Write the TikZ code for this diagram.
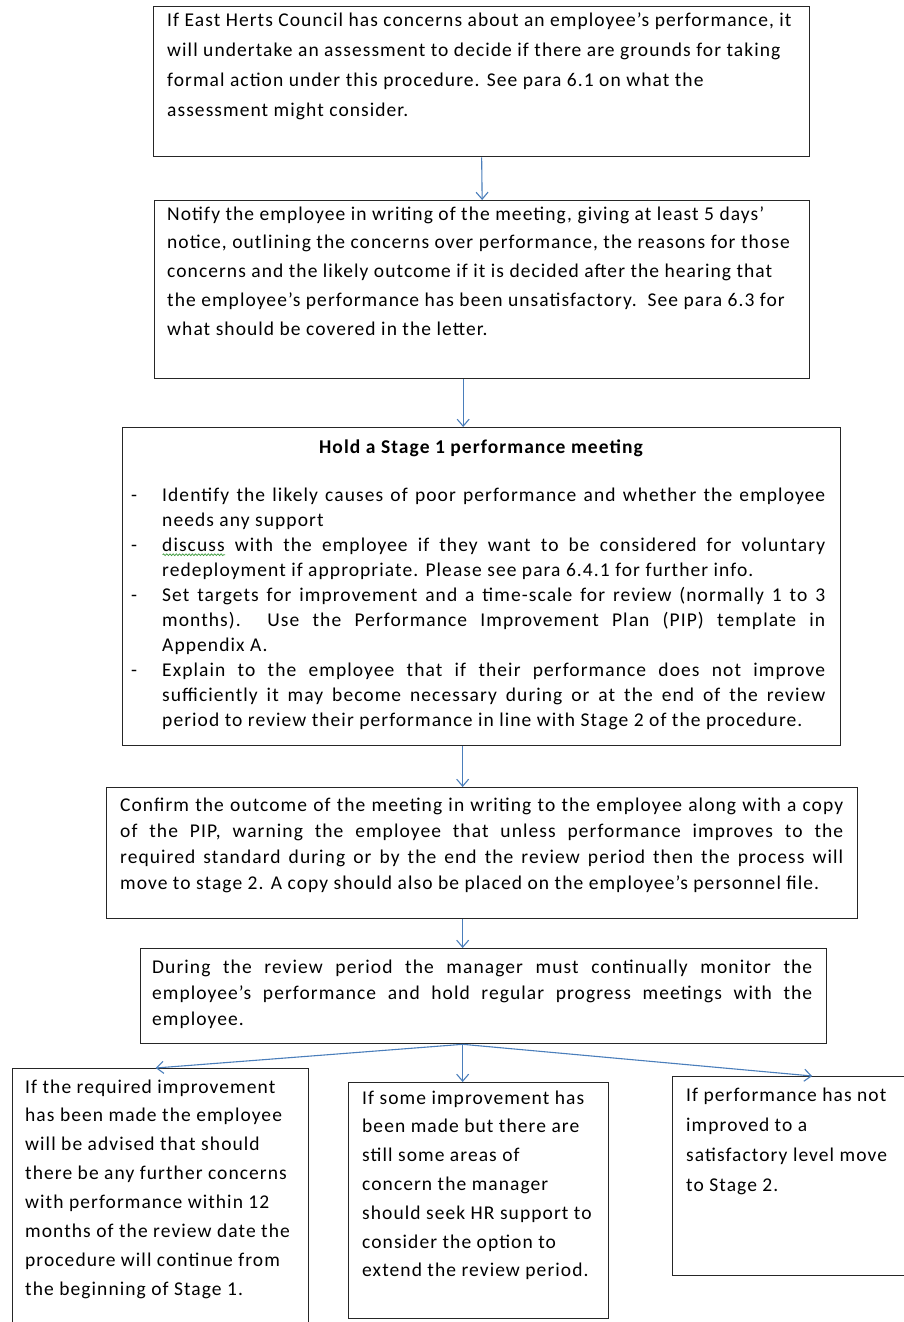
\documentclass[tikz,border=0pt]{standalone}
\usepackage{fontspec}
\setmainfont{Carlito}[LetterSpace=5.5]
\usetikzlibrary{arrows.meta,decorations.pathmorphing}
\definecolor{arr}{HTML}{4A7EBB}
\definecolor{spell}{HTML}{3C9A3C}
\tikzset{
  box/.style={draw=black!85, line width=1.3pt, anchor=north west, inner sep=0pt, fill=none},
  txt/.style={anchor=base west, inner sep=0pt},
  flow/.style={draw=arr, line width=1.1pt, -{Straight Barb[length=7pt,width=12pt]}},
  wavy/.style={draw=spell, line width=0.7pt, decorate, decoration={snake, amplitude=0.9pt, segment length=3.2pt}},
}
\newlength\spw
\newcommand\spellerr[1]{\settowidth\spw{#1}\rlap{\raisebox{-3.5pt}{\tikz[baseline=0pt]\draw[wavy] (0pt,0pt) -- (\spw,0pt);}}#1}
\newcommand\rtext[3]{\begin{minipage}[t]{#1}\fontsize{19.5}{#2}\selectfont\raggedright #3\end{minipage}}
\newcommand\jtext[3]{\begin{minipage}[t]{#1}\fontsize{19.5}{#2}\selectfont\setlength\parindent{0pt}#3\end{minipage}}
\newcommand\itm{\par\hangindent=31pt\hangafter=1\makebox[31pt][l]{-}}
\begin{document}
\begin{tikzpicture}[x=1pt,y=-1pt]
\useasboundingbox (0,0) rectangle (904,1322);
\clip (0,0) rectangle (904,1322);
\fill[white] (0,0) rectangle (904,1322);
% boxes
\node[box, minimum width=656pt, minimum height=150pt] (b1) at (153,6) {};
\node[box, minimum width=655pt, minimum height=178pt] (b2) at (154,200) {};
\node[box, minimum width=718pt, minimum height=318pt] (b3) at (122,427) {};
\node[box, minimum width=751pt, minimum height=131pt] (b4) at (106,787) {};
\node[box, minimum width=686pt, minimum height=95pt] (b5) at (140,948) {};
\node[box, minimum width=296pt, minimum height=275pt] (bl) at (12,1068) {};
\node[box, minimum width=260pt, minimum height=236pt] (bm) at (348,1082) {};
\node[box, minimum width=245pt, minimum height=199pt] (br) at (672,1076) {};
% texts
\node[txt] (t1) at (167,27) {\rtext{645pt}{30pt}{If East Herts Council has concerns about an employee’s performance, it\\
will undertake an assessment to decide if there are grounds for taking\\
formal action under this procedure. See para 6.1 on what the\\
assessment might consider.}};
\node[txt] (t2) at (167,220) {\rtext{645pt}{28.8pt}{Notify the employee in writing of the meeting, giving at least 5 days’\\
notice, outlining the concerns over performance, the reasons for those\\
concerns and the likely outcome if it is decided after the hearing that\\
the employee’s performance has been unsatisfactory.\ \ See para 6.3 for\\
what should be covered in the letter.}};
\node[anchor=base, inner sep=0pt, font=\fontsize{19.5}{20}\selectfont\bfseries] (t3h) at (481,453) {Hold a Stage 1 performance meeting};
\node[txt] (t3) at (131,501) {\jtext{694pt}{25.1pt}{%
\itm Identify the likely causes of poor performance and whether the employee\linebreak needs any support
\itm \spellerr{discuss} with the employee if they want to be considered for voluntary\linebreak redeployment if appropriate. Please see para 6.4.1 for further info.
\itm Set targets for improvement and a time-scale for review (normally 1 to 3\linebreak months).\ \ Use the Performance Improvement Plan (PIP) template in\linebreak Appendix A.
\itm Explain to the employee that if their performance does not improve\linebreak sufficiently it may become necessary during or at the end of the review\linebreak period to review their performance in line with Stage 2 of the procedure.\par}};
\node[txt] (t4) at (120,811) {\jtext{723pt}{26pt}{Confirm the outcome of the meeting in writing to the employee along with a copy\linebreak
of the PIP, warning the employee that unless performance improves to the\linebreak
required standard during or by the end the review period then the process will\linebreak
move to stage 2. A copy should also be placed on the employee’s personnel file.\par}};
\node[txt] (t5) at (152,973) {\jtext{660pt}{26pt}{During the review period the manager must continually monitor the\linebreak
employee’s performance and hold regular progress meetings with the\linebreak
employee.\par}};
\node[txt] (tl) at (25,1093) {\rtext{285pt}{28.9pt}{If the required improvement\\
has been made the employee\\
will be advised that should\\
there be any further concerns\\
with performance within 12\\
months of the review date the\\
procedure will continue from\\
the beginning of Stage 1.}};
\node[txt] (tm) at (362,1104) {\rtext{245pt}{28.8pt}{If some improvement has\\
been made but there are\\
still some areas of\\
concern the manager\\
should seek HR support to\\
consider the option to\\
extend the review period.}};
\node[txt] (tr) at (686,1101) {\rtext{215pt}{30pt}{If performance has not\\
improved to a\\
satisfactory level move\\
to Stage 2.}};
% connectors
\draw[flow] (b1.south) -- (b2.north);
\draw[flow] ([xshift=-19pt]b2.south) -- ([xshift=-19pt]b2.south |- b3.north);
\draw[flow] ([xshift=-19pt]b3.south) -- ([xshift=-19pt]b3.south |- b4.north);
\draw[flow] ([xshift=-19.5pt]b4.south) -- ([xshift=-19.5pt]b4.south |- b5.north);
\coordinate (fan) at ([xshift=-21pt]b5.south);
\draw[flow] (fan) -- ([xshift=-5pt]bl.north);
\draw[flow] (fan) -- (fan |- bm.north);
\draw[flow] (fan) -- ([xshift=17pt]br.north);
\end{tikzpicture}
\end{document}
